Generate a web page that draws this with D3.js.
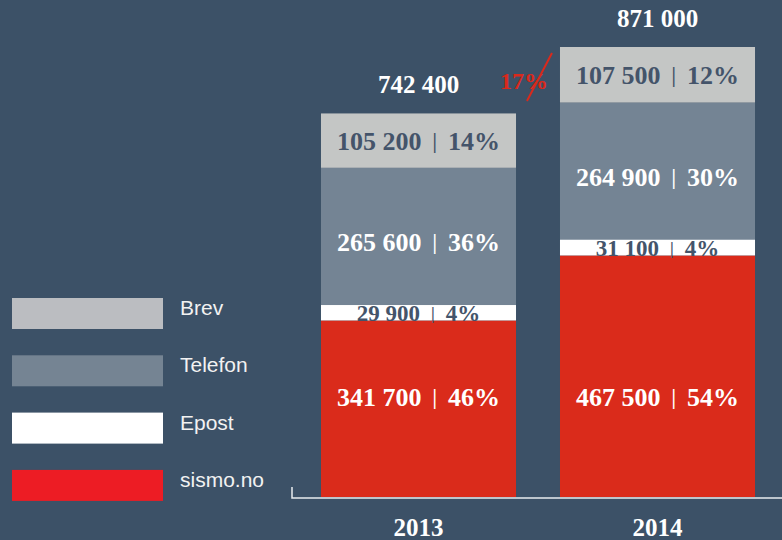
<!DOCTYPE html>
<html>
<head>
<meta charset="utf-8">
<script src="https://d3js.org/d3.v7.min.js"></script>
<style>
  body { margin: 0; background: #3c5167; }
  svg { display: block; }
</style>
</head>
<body>
<script>
// data
var years = ["2013", "2014"]
var categories = ["sismo.no", "Epost", "Telefon", "Brev"]   // stack order, bottom to top
var sismo   = [341700, 467500]
var epost   = [29900, 31100]
var telefon = [265600, 264900]
var brev    = [105200, 107500]
var sismoPct   = [46, 54]
var epostPct   = [4, 4]
var telefonPct = [36, 30]
var brevPct    = [14, 12]
var totals = [742400, 871000]
var growth = "17%"
var legendOrder = ["Brev", "Telefon", "Epost", "sismo.no"]

var width = 782
var height = 540

var barColor = {"sismo.no": "#da2b1b", "Epost": "#ffffff", "Telefon": "#748494", "Brev": "#c4c6c5"}
var legendColor = {"sismo.no": "#ed1c24", "Epost": "#ffffff", "Telefon": "#758493", "Brev": "#bbbdc1"}
var dark = "#44546a"
var labelColor = {"sismo.no": "#ffffff", "Epost": dark, "Telefon": "#ffffff", "Brev": dark}

var values = {"sismo.no": sismo, "Epost": epost, "Telefon": telefon, "Brev": brev}
var pcts = {"sismo.no": sismoPct, "Epost": epostPct, "Telefon": telefonPct, "Brev": brevPct}

var rows = years.map(function(y, i) {
	var r = {year: y}
	categories.forEach(function(c) { r[c] = values[c][i] })
	return r
})

var nf = d3.formatLocale({decimal: ",", thousands: " ", grouping: [3], currency: ["", ""]}).format(",")

var svg = d3.select("body")
	.append("svg")
	.attr("width", width)
	.attr("height", height)

var x = d3.scaleBand()
	.domain(years)
	.range([299, 777])
	.paddingInner(0.184)
	.paddingOuter(0.092)

var y = d3.scaleLinear()
	.domain([0, d3.max(totals)])
	.range([497, 47])

var serif = "'Liberation Serif', 'Times New Roman', serif"
var sans = "'Liberation Sans', Arial, sans-serif"

var series = d3.stack().keys(categories)(rows)

series.forEach(function(s) {
	var cat = s.key
	var g = svg.append("g")

	g.selectAll("rect")
		.data(s)
		.enter()
		.append("rect")
		.attr("x", function(d) { return x(d.data.year) })
		.attr("width", x.bandwidth())
		.attr("y", function(d) { return y(d[1]) })
		.attr("height", function(d) { return y(d[0]) - y(d[1]) })
		.style("fill", barColor[cat])

	var small = cat == "Epost"
	var fs = small ? 23 : 26

	var t = g.selectAll("text")
		.data(s)
		.enter()
		.append("text")
		.attr("x", function(d) { return x(d.data.year) + x.bandwidth() / 2 })
		.attr("y", function(d) {
			var mid = (y(d[0]) + y(d[1])) / 2
			if (cat == "Epost") return y(d[0]) + 1
			if (cat == "sismo.no") return y(0) - 91
			if (cat == "Telefon") return mid + 15
			return mid + 9
		})
		.attr("text-anchor", "middle")
		.style("font-family", serif)
		.style("font-weight", "bold")
		.style("font-size", fs + "px")
		.style("fill", labelColor[cat])

	t.append("tspan").text(function(d) { return nf(d.data[cat]) })
	t.append("tspan")
		.attr("dx", 11)
		.attr("dy", -2)
		.style("font-size", (small ? 17 : 20) + "px")
		.text("|")
	t.append("tspan")
		.attr("dx", 11)
		.attr("dy", 2)
		.text(function(d, i) { return pcts[cat][i] + "%" })
})

// totals above the bars
svg.selectAll(".total")
	.data(years)
	.enter()
	.append("text")
	.attr("class", "total")
	.attr("x", function(d) { return x(d) + x.bandwidth() / 2 })
	.attr("y", function(d, i) { return y(totals[i]) - 20 })
	.attr("text-anchor", "middle")
	.style("font-family", serif)
	.style("font-weight", "bold")
	.style("font-size", "25px")
	.style("fill", "#ffffff")
	.text(function(d, i) { return nf(totals[i]) })

// growth marker between the bars
var gx = x(years[1]) - 12
var gy = y(totals[1]) + 42
svg.append("text")
	.attr("x", gx)
	.attr("y", gy)
	.attr("text-anchor", "end")
	.style("font-family", serif)
	.style("font-weight", "bold")
	.style("font-size", "24px")
	.style("fill", "#d9291c")
	.text(growth)
svg.append("line")
	.attr("x1", gx + 4).attr("y1", gy - 36)
	.attr("x2", gx - 21).attr("y2", gy + 12)
	.style("stroke", "#d9291c")
	.style("stroke-width", 2)

// baseline
svg.append("path")
	.attr("d", "M292," + (y(0) - 10) + "V" + (y(0) + 1) + "H" + width)
	.style("fill", "none")
	.style("stroke", "#e8ecef")
	.style("stroke-width", 1.5)

svg.selectAll(".year")
	.data(years)
	.enter()
	.append("text")
	.attr("class", "year")
	.attr("x", function(d) { return x(d) + x.bandwidth() / 2 })
	.attr("y", 536)
	.attr("text-anchor", "middle")
	.style("font-family", serif)
	.style("font-weight", "bold")
	.style("font-size", "25px")
	.style("fill", "#ffffff")
	.text(function(d) { return d })

// legend
var legend = svg.selectAll(".legend")
	.data(legendOrder)
	.enter()
	.append("g")
	.attr("class", "legend")
	.attr("transform", function(d, i) { return "translate(12," + (298 + i * 57.3) + ")" })

legend.append("rect")
	.attr("width", 151)
	.attr("height", 31)
	.style("fill", function(d) { return legendColor[d] })

legend.append("text")
	.attr("x", 168)
	.attr("y", 17)
	.style("font-family", sans)
	.style("font-size", "21px")
	.style("fill", "#f2f2f2")
	.text(function(d) { return d })
</script>
</body>
</html>
